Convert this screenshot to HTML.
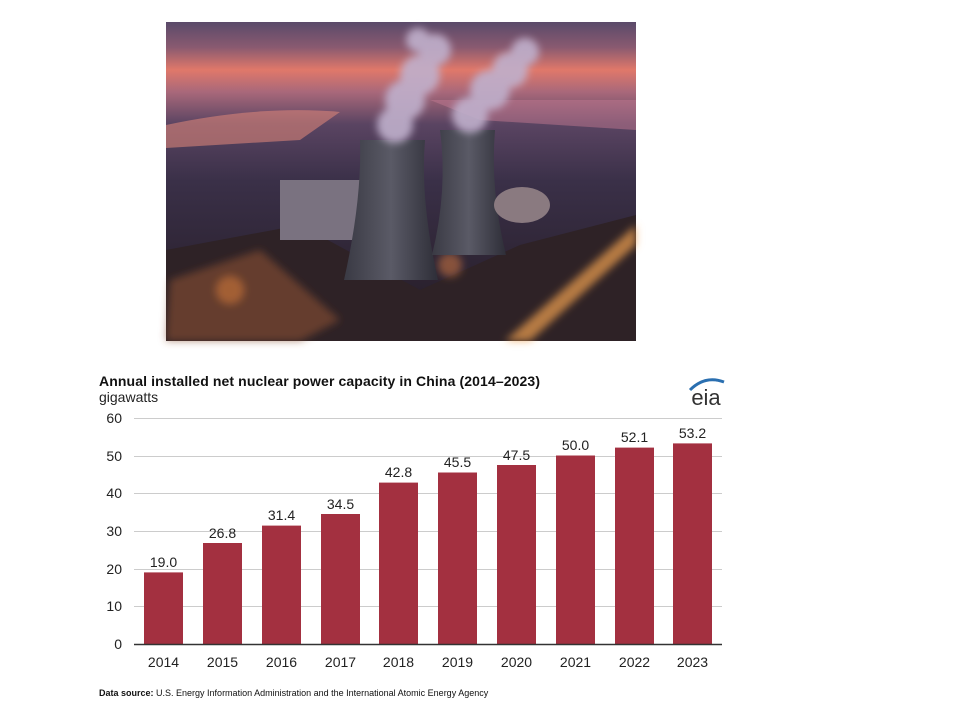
<!DOCTYPE html>
<html><head><style>
body{margin:0;width:960px;height:720px;background:#fff;overflow:hidden;font-family:"Liberation Sans",sans-serif}
</style></head><body>
<svg width="960" height="720" style="position:absolute;left:0;top:0">
<defs>
<linearGradient id="sky" x1="0" y1="0" x2="0" y2="1">
<stop offset="0" stop-color="#5a4a6a"/><stop offset="0.08" stop-color="#8a5a70"/><stop offset="0.15" stop-color="#e0786a"/><stop offset="0.22" stop-color="#a8687a"/><stop offset="0.32" stop-color="#5a4462"/><stop offset="0.5" stop-color="#3a3048"/><stop offset="1" stop-color="#231a22"/>
</linearGradient>
<linearGradient id="tw" x1="0" y1="0" x2="1" y2="0"><stop offset="0" stop-color="#3a3a44"/><stop offset="0.5" stop-color="#5a5a66"/><stop offset="1" stop-color="#2e2e38"/></linearGradient>
<filter id="bl"><feGaussianBlur stdDeviation="4"/></filter>
</defs>
<rect x="166" y="22" width="470" height="319" fill="url(#sky)"/>
<path d="M166 125 Q260 105 340 112 L300 140 L166 148Z" fill="#d88478" opacity="0.6"/>
<path d="M430 100 L636 100 L636 130 L480 120Z" fill="#c07890" opacity="0.5"/>
<path d="M166 250 L300 225 L420 290 L520 245 L636 215 L636 341 L166 341Z" fill="#2e2226"/>
<g filter="url(#bl)">
<path d="M170 280 L260 250 L340 320 L300 341 L166 341Z" fill="#8a5030" opacity="0.6"/>
<path d="M505 341 L636 225 L636 245 L530 341Z" fill="#f0a050" opacity="0.7"/>
<circle cx="230" cy="290" r="14" fill="#e08040" opacity="0.5"/>
<circle cx="450" cy="265" r="12" fill="#e08040" opacity="0.5"/>
</g>
<rect x="280" y="180" width="80" height="60" fill="#7a7280"/>
<path d="M360 140 L425 140 Q420 200 438 280 L344 280 Q362 200 360 140Z" fill="url(#tw)"/>
<path d="M440 130 L495 130 Q490 190 506 255 L432 255 Q448 190 440 130Z" fill="url(#tw)"/>
<ellipse cx="522" cy="205" rx="28" ry="18" fill="#8a7a80"/>
<g fill="#c0b0cc" opacity="0.9" filter="url(#bl)">
<circle cx="395" cy="125" r="18"/><circle cx="405" cy="100" r="20"/><circle cx="420" cy="75" r="20"/><circle cx="435" cy="50" r="16"/><circle cx="418" cy="40" r="12"/>
<circle cx="470" cy="115" r="18"/><circle cx="490" cy="90" r="20"/><circle cx="510" cy="70" r="18"/><circle cx="525" cy="52" r="14"/>
</g>
<g stroke="#ccc" stroke-width="1">
<line x1="134" y1="418.5" x2="722" y2="418.5"/><line x1="134" y1="456.5" x2="722" y2="456.5"/><line x1="134" y1="493.5" x2="722" y2="493.5"/><line x1="134" y1="531.5" x2="722" y2="531.5"/><line x1="134" y1="569.5" x2="722" y2="569.5"/><line x1="134" y1="606.5" x2="722" y2="606.5"/>
</g>
<g fill="#a33040">
<rect x="144" y="572.4" width="39" height="71.6"/>
<rect x="203" y="543" width="39" height="101"/>
<rect x="262" y="525.6" width="39" height="118.4"/>
<rect x="321" y="514" width="39" height="130"/>
<rect x="379" y="482.6" width="39" height="161.4"/>
<rect x="438" y="472.5" width="39" height="171.5"/>
<rect x="497" y="465" width="39" height="179"/>
<rect x="556" y="455.5" width="39" height="188.5"/>
<rect x="615" y="447.6" width="39" height="196.4"/>
<rect x="673" y="443.4" width="39" height="200.6"/>
</g>
<line x1="134" y1="644.5" x2="722" y2="644.5" stroke="#333" stroke-width="1.5"/>
<g font-size="14" fill="#222" text-anchor="end">
<text x="122" y="423">60</text><text x="122" y="461">50</text><text x="122" y="498">40</text><text x="122" y="536">30</text><text x="122" y="574">20</text><text x="122" y="611">10</text><text x="122" y="649">0</text>
</g>
<g font-size="14" fill="#222" text-anchor="middle">
<text x="163.5" y="567">19.0</text><text x="222.5" y="538">26.8</text><text x="281.5" y="520">31.4</text><text x="340.5" y="509">34.5</text><text x="398.5" y="477">42.8</text><text x="457.5" y="467">45.5</text><text x="516.5" y="460">47.5</text><text x="575.5" y="450">50.0</text><text x="634.5" y="442">52.1</text><text x="692.5" y="438">53.2</text>
<text x="163.5" y="667">2014</text><text x="222.5" y="667">2015</text><text x="281.5" y="667">2016</text><text x="340.5" y="667">2017</text><text x="398.5" y="667">2018</text><text x="457.5" y="667">2019</text><text x="516.5" y="667">2020</text><text x="575.5" y="667">2021</text><text x="634.5" y="667">2022</text><text x="692.5" y="667">2023</text>
</g>
<text x="99" y="386" font-size="14" font-weight="bold" fill="#111" textLength="441">Annual installed net nuclear power capacity in China (2014–2023)</text>
<text x="99" y="402" font-size="14" fill="#222">gigawatts</text>
<text x="706" y="405" font-size="22" fill="#333" text-anchor="middle">eia</text>
<path d="M690 390 Q705 375 724 382" stroke="#2a6fb0" stroke-width="3" fill="none"/>
<text x="99" y="696" font-size="9" fill="#111"><tspan font-weight="bold">Data source:</tspan> U.S. Energy Information Administration and the International Atomic Energy Agency</text>
</svg>
</body></html>
